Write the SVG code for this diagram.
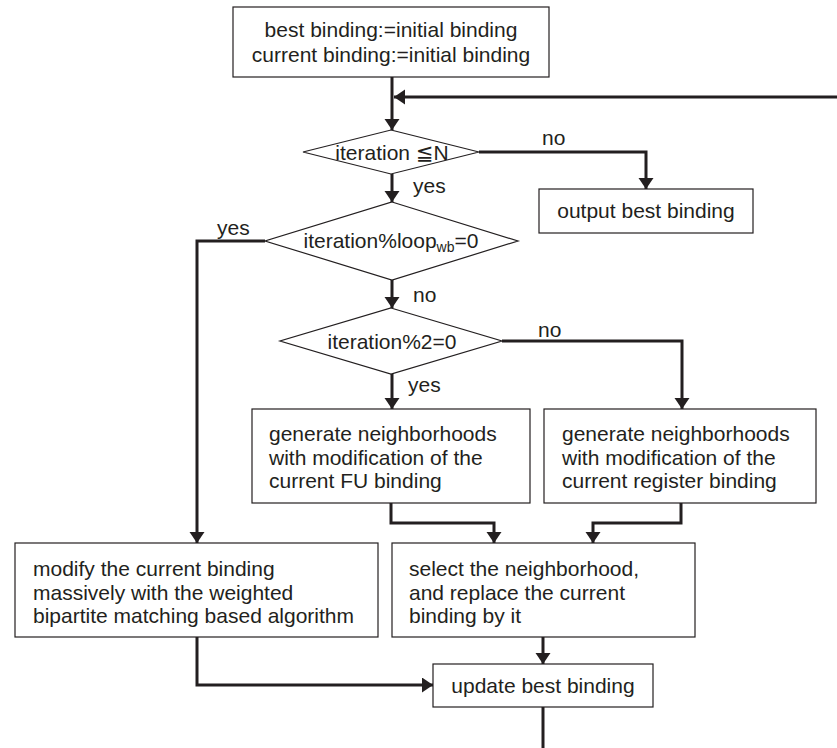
<svg xmlns="http://www.w3.org/2000/svg" width="837" height="748" viewBox="0 0 837 748">
<style>
.box{fill:#fff;stroke:#231f20;stroke-width:1.2}
.t{font-family:"Liberation Sans",Arial,"DejaVu Sans",sans-serif;font-size:21px;fill:#231f20}
.c{text-anchor:middle}
.con{fill:none;stroke:#231f20;stroke-width:3}
</style>
<defs>
<marker id="ah" markerUnits="userSpaceOnUse" markerWidth="12" markerHeight="16" refX="11" refY="7.5" orient="auto">
<path d="M0,0 L11,7.5 L0,15 z" fill="#231f20"/>
</marker>
</defs>
<rect width="837" height="748" fill="#fff"/>
<g id="connectors">
<path class="con" d="M392,77 V130" marker-end="url(#ah)"/>
<path class="con" d="M837,97 H394" marker-end="url(#ah)"/>
<path class="con" d="M479,152 H646 V189" marker-end="url(#ah)"/>
<path class="con" d="M392,174 V202" marker-end="url(#ah)"/>
<path class="con" d="M265,241 H197 V543" marker-end="url(#ah)"/>
<path class="con" d="M392,280 V308" marker-end="url(#ah)"/>
<path class="con" d="M502,341 H682 V409" marker-end="url(#ah)"/>
<path class="con" d="M392,374 V409" marker-end="url(#ah)"/>
<path class="con" d="M391,503 V523 H494 V543" marker-end="url(#ah)"/>
<path class="con" d="M681,503 V523 H593 V543" marker-end="url(#ah)"/>
<path class="con" d="M543,637 V664" marker-end="url(#ah)"/>
<path class="con" d="M197,637 V685 H433" marker-end="url(#ah)"/>
<path class="con" d="M543,707 V748"/>
<text class="t" x="542" y="145">no</text>
<text class="t" x="413" y="193">yes</text>
<text class="t" x="217" y="235">yes</text>
<text class="t" x="413" y="302">no</text>
<text class="t" x="538" y="337">no</text>
<text class="t" x="408" y="392">yes</text>
</g>
<g id="init">
<rect class="box" x="233" y="7" width="316" height="70"/>
<text class="t c" x="391" y="37">best binding:=initial binding</text>
<text class="t c" x="391" y="62">current binding:=initial binding</text>
</g>
<g id="cond-n">
<polygon class="box" points="391,130 479,152 391,174 303,152"/>
<text class="t c" x="392" y="160">iteration ≦N</text>
</g>
<g id="output">
<rect class="box" x="539" y="189" width="214" height="44"/>
<text class="t c" x="646" y="218">output best binding</text>
</g>
<g id="cond-loop">
<polygon class="box" points="392,202 518,241 392,280 265,241"/>
<text class="t c" x="391" y="248">iteration%loop<tspan font-size="14" dy="4">wb</tspan><tspan dy="-4">=0</tspan></text>
</g>
<g id="cond-2">
<polygon class="box" points="391,308 502,341 391,374 280,341"/>
<text class="t c" x="392" y="349">iteration%2=0</text>
</g>
<g id="gen-fu">
<rect class="box" x="252" y="409" width="278" height="94"/>
<text class="t" x="269" y="441">generate neighborhoods</text>
<text class="t" x="269" y="465">with modification of the</text>
<text class="t" x="269" y="488">current FU binding</text>
</g>
<g id="gen-reg">
<rect class="box" x="544" y="409" width="272" height="94"/>
<text class="t" x="562" y="441">generate neighborhoods</text>
<text class="t" x="562" y="465">with modification of the</text>
<text class="t" x="562" y="488">current register binding</text>
</g>
<g id="modify">
<rect class="box" x="15" y="543" width="363" height="94"/>
<text class="t" x="33" y="576">modify the current binding</text>
<text class="t" x="33" y="600">massively with the weighted</text>
<text class="t" x="33" y="623">bipartite matching based algorithm</text>
</g>
<g id="select">
<rect class="box" x="392" y="543" width="303" height="94"/>
<text class="t" x="409" y="576">select the neighborhood,</text>
<text class="t" x="409" y="600">and replace the current</text>
<text class="t" x="409" y="623">binding by it</text>
</g>
<g id="update">
<rect class="box" x="433" y="664" width="220" height="43"/>
<text class="t c" x="543" y="693">update best binding</text>
</g>
</svg>
